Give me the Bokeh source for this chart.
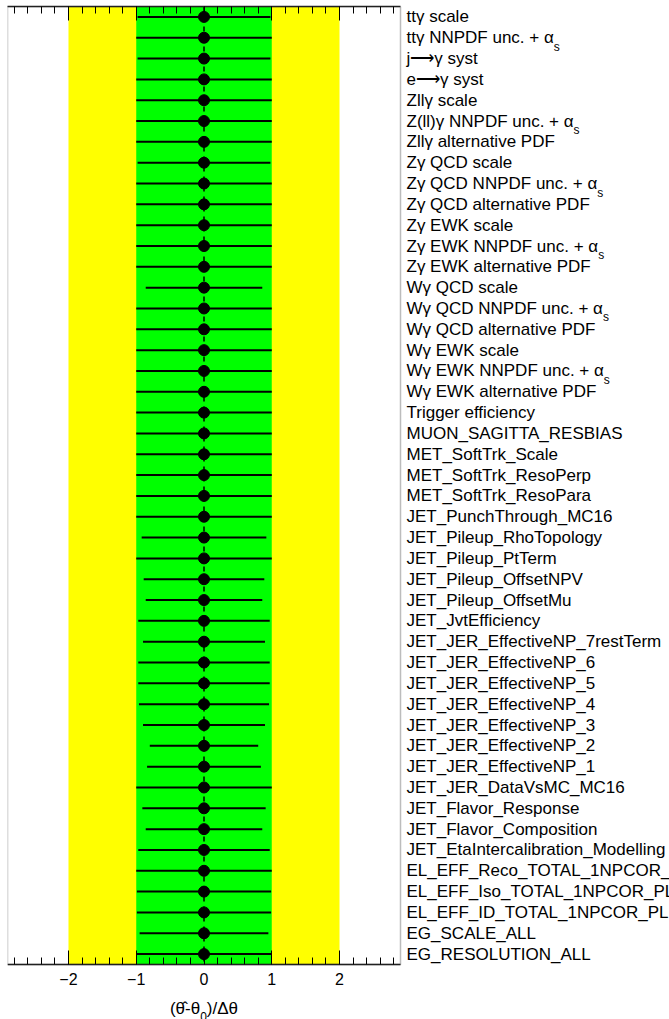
from bokeh.plotting import figure
from bokeh.models import (ColumnDataSource, Range1d, LinearAxis, SingleIntervalTicker,
                          BoxAnnotation)
from bokeh.core.properties import value
from bokeh.embed import file_html
from bokeh.resources import INLINE

# ---------------- data (top to bottom) ----------------
labels = [
    "ttγ scale",
    "ttγ NNPDF unc. + α",
    "j\u27f6γ syst",
    "e\u27f6γ syst",
    "Zllγ scale",
    "Z(ll)γ NNPDF unc. + α",
    "Zllγ alternative PDF",
    "Zγ QCD scale",
    "Zγ QCD NNPDF unc. + α",
    "Zγ QCD alternative PDF",
    "Zγ EWK scale",
    "Zγ EWK NNPDF unc. + α",
    "Zγ EWK alternative PDF",
    "Wγ QCD scale",
    "Wγ QCD NNPDF unc. + α",
    "Wγ QCD alternative PDF",
    "Wγ EWK scale",
    "Wγ EWK NNPDF unc. + α",
    "Wγ EWK alternative PDF",
    "Trigger efficiency",
    "MUON_SAGITTA_RESBIAS",
    "MET_SoftTrk_Scale",
    "MET_SoftTrk_ResoPerp",
    "MET_SoftTrk_ResoPara",
    "JET_PunchThrough_MC16",
    "JET_Pileup_RhoTopology",
    "JET_Pileup_PtTerm",
    "JET_Pileup_OffsetNPV",
    "JET_Pileup_OffsetMu",
    "JET_JvtEfficiency",
    "JET_JER_EffectiveNP_7restTerm",
    "JET_JER_EffectiveNP_6",
    "JET_JER_EffectiveNP_5",
    "JET_JER_EffectiveNP_4",
    "JET_JER_EffectiveNP_3",
    "JET_JER_EffectiveNP_2",
    "JET_JER_EffectiveNP_1",
    "JET_JER_DataVsMC_MC16",
    "JET_Flavor_Response",
    "JET_Flavor_Composition",
    "JET_EtaIntercalibration_Modelling",
    "EL_EFF_Reco_TOTAL_1NPCOR_PLUS_UNCOR",
    "EL_EFF_Iso_TOTAL_1NPCOR_PLUS_UNCOR",
    "EL_EFF_ID_TOTAL_1NPCOR_PLUS_UNCOR",
    "EG_SCALE_ALL",
    "EG_RESOLUTION_ALL",
]
subscripts = ["", "s", "", "", "", "s", "", "", "s", "", "", "s", "", "", "s", "", "", "s",
              "", "", "", "", "", "", "", "", "", "", "", "", "", "", "", "", "", "", "",
              "", "", "", "", "", "", "", "", ""]

central = [0.0, 0.0, 0.0, 0.0, 0.0, 0.0, 0.0, 0.0, 0.0, 0.0,
           0.0, 0.0, 0.0, 0.0, 0.0, 0.0, 0.0, 0.0, 0.0, 0.0,
           0.0, 0.0, 0.0, 0.0, 0.0, 0.0, 0.0, 0.0, 0.0, 0.0,
           0.0, 0.0, 0.0, 0.0, 0.0, 0.0, 0.0, 0.0, 0.0, 0.0,
           0.0, 0.0, 0.0, 0.0, 0.0, 0.0]
errors = [0.98, 1.00, 0.98, 1.00, 1.00, 1.00, 1.00, 0.98, 1.00, 1.00,
          1.00, 1.00, 1.00, 0.86, 1.00, 1.00, 1.00, 1.00, 1.00, 1.00,
          1.00, 1.00, 1.00, 1.00, 1.00, 0.92, 1.00, 0.89, 0.86, 0.97,
          0.90, 0.97, 0.97, 0.96, 0.90, 0.80, 0.84, 1.00, 0.91, 0.86,
          0.97, 1.00, 0.99, 0.99, 0.95, 1.00]

reference_value = 0.0
band_1sigma = 1.0
band_2sigma = 2.0
tick_values = [-2, -1, 0, 1, 2]
tick_labels = ["\u22122", "\u22121", "0", "1", "2"]
x_title_parts = ["(\u03b8\u0302-\u03b8", "0", ")/\u0394\u03b8"]   # "0" is a subscript

# ---------------- styling ----------------
FONT = "Liberation Sans"
LABEL_SIZE = 17
SUB_SIZE = 12
LABEL_GAP = 6
TITLE_SIZE = 17

# Arial / Liberation Sans advance widths (em/1000) for placing subscripts
W = {" ": 278, "t": 278, "\u03b3": 500, "N": 722, "P": 667, "D": 722, "F": 611,
     "u": 556, "n": 556, "c": 500, ".": 278, "+": 584, "\u03b1": 578, "Z": 611,
     "(": 333, "l": 222, ")": 333, "Q": 778, "C": 722, "E": 667, "W": 944, "K": 667,
     "\u03b8": 556, "\u0302": 0, "-": 333, "/": 278, "\u0394": 668, "0": 556}


def text_width(s, size):
    return sum(W.get(ch, 556) for ch in s) / 1000.0 * size


rows = list(range(len(labels)))
lo = [c - e for c, e in zip(central, errors)]
hi = [c + e for c, e in zip(central, errors)]
src = ColumnDataSource(dict(y=rows, c=central, lo=lo, hi=hi, label=labels))

sub_rows = [r for r, s in zip(rows, subscripts) if s]
sub_src = ColumnDataSource(dict(
    y=sub_rows,
    sub=[subscripts[r] for r in sub_rows],
    off=[LABEL_GAP + text_width(labels[r], LABEL_SIZE) for r in sub_rows],
))

# ---------------- geometry ----------------
# plotted window: x in [-2.9, 2.9], rows in [-0.5, n-0.5]; the frame continues
# to the right (row labels) and downwards (axis title) up to the canvas edge.
XMIN, XMAX = -2.9, 2.9
W_FIG, H_FIG = 669, 1019
LEFT, TOP = 7, 6
WIN_W, WIN_H = 393, 958
px_per_x = WIN_W / (XMAX - XMIN)
YTOP, YBOT = -0.5, len(labels) - 0.5
px_per_row = WIN_H / (YBOT - YTOP)
x_end = XMIN + (W_FIG - LEFT) / px_per_x
y_end = YTOP + (H_FIG - TOP) / px_per_row

p = figure(width=W_FIG, height=H_FIG,
           x_range=Range1d(XMIN, x_end),
           y_range=Range1d(y_end, YTOP),
           output_backend="svg", toolbar_location=None,
           y_axis_location=None, x_axis_location=None,
           min_border_left=LEFT, min_border_right=0,
           min_border_top=TOP, min_border_bottom=0)
p.background_fill_color = "white"
p.border_fill_color = "white"
p.outline_line_color = None
p.grid.visible = False

# bands
p.add_layout(BoxAnnotation(left=-band_2sigma, right=band_2sigma, top=YTOP, bottom=YBOT,
                           fill_color="#ffff00", fill_alpha=1.0, line_color=None,
                           level="underlay"))
p.add_layout(BoxAnnotation(left=-band_1sigma, right=band_1sigma, top=YTOP, bottom=YBOT,
                           fill_color="#00ff00", fill_alpha=1.0, line_color=None,
                           level="underlay"))
# dashed reference line
p.line(x=[reference_value, reference_value], y=[YTOP, YBOT], line_color="black",
       line_width=1.5, line_dash="5 5")

# error bars and points
p.segment(x0="lo", x1="hi", y0="y", y1="y", source=src, line_color="black", line_width=2)
p.scatter(x="c", y="y", source=src, size=11, fill_color="black", line_color="black")

# window frame
p.add_layout(BoxAnnotation(left=XMIN, right=XMAX, top=YTOP, bottom=YBOT,
                           fill_color=None, fill_alpha=0,
                           line_color="#222222", line_width=1.5, level="overlay"))


def style_axis(ax, show_labels):
    ax.ticker = SingleIntervalTicker(interval=1, num_minor_ticks=5)
    ax.bounds = (XMIN, XMAX)
    ax.major_tick_in = 14
    ax.major_tick_out = 0
    ax.minor_tick_in = 7
    ax.minor_tick_out = 0
    ax.major_tick_line_color = "black"
    ax.minor_tick_line_color = "black"
    ax.axis_line_color = "#222222"
    ax.axis_line_width = 1.5
    if show_labels:
        ax.major_label_overrides = {v: t for v, t in zip(tick_values, tick_labels)}
        ax.major_label_text_font = FONT
        ax.major_label_text_font_size = "16px"
        ax.major_label_text_color = "black"
        ax.major_label_standoff = 8
    else:
        ax.major_label_text_color = None
        ax.major_label_text_font_size = "1px"
        ax.major_label_standoff = 0


bottom_axis = LinearAxis(fixed_location=YBOT)
style_axis(bottom_axis, True)
p.add_layout(bottom_axis, "below")
top_axis = LinearAxis()
style_axis(top_axis, False)
p.add_layout(top_axis, "above")

# axis title centred under x = 0, with a subscript 0
w1 = text_width(x_title_parts[0], TITLE_SIZE)
w2 = text_width(x_title_parts[1], SUB_SIZE)
w3 = text_width(x_title_parts[2], TITLE_SIZE)
start = -(w1 + w2 + w3) / 2
TITLE_DY = 44
p.text(x=reference_value, y=YBOT, text=[x_title_parts[0]], x_offset=start, y_offset=TITLE_DY,
       text_font=value(FONT), text_font_size=value(f"{TITLE_SIZE}px"),
       text_baseline="middle", text_align="left", text_color="black")
p.text(x=reference_value, y=YBOT, text=[x_title_parts[1]], x_offset=start + w1,
       y_offset=TITLE_DY + 8,
       text_font=value(FONT), text_font_size=value(f"{SUB_SIZE}px"),
       text_baseline="middle", text_align="left", text_color="black")
p.text(x=reference_value, y=YBOT, text=[x_title_parts[2]], x_offset=start + w1 + w2,
       y_offset=TITLE_DY,
       text_font=value(FONT), text_font_size=value(f"{TITLE_SIZE}px"),
       text_baseline="middle", text_align="left", text_color="black")

# row labels to the right of the plotted window
p.text(x=XMAX, y="y", text="label", source=src, x_offset=LABEL_GAP,
       text_font=value(FONT), text_font_size=value(f"{LABEL_SIZE}px"),
       text_baseline="middle", text_align="left", text_color="black")
p.text(x=XMAX, y="y", text="sub", source=sub_src, x_offset="off", y_offset=9,
       text_font=value(FONT), text_font_size=value(f"{SUB_SIZE}px"),
       text_baseline="middle", text_align="left", text_color="black")

open("out.html", "w").write(file_html(p, INLINE))
